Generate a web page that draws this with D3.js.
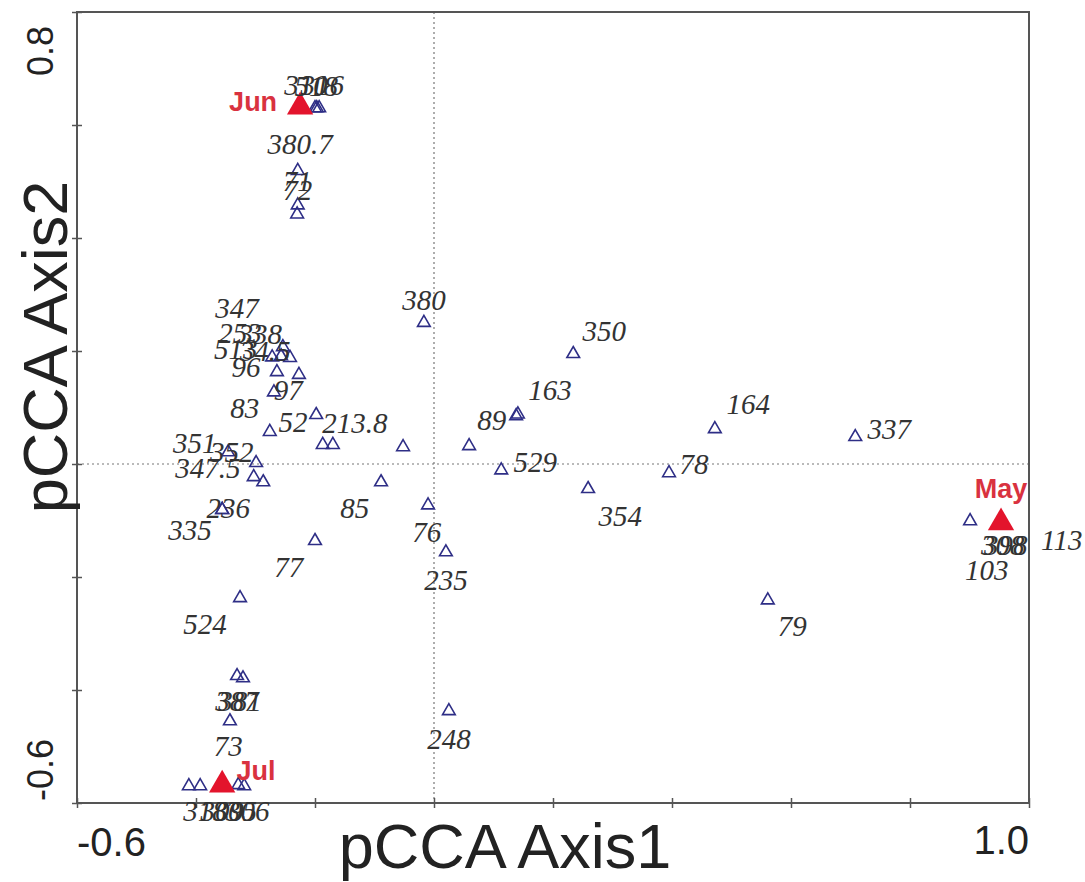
<!DOCTYPE html>
<meta charset="utf-8" />
<script src="https://d3js.org/d3.v7.min.js"></script>
<style>
  body { margin: 0; background: #fff; }
  text { font-family: "Liberation Sans", Arial, sans-serif; }
</style>
<body>
  <div id="chart"></div>
</body>
<script>
  // axis ranges and ticks
  const xDomain = [-0.6, 1.0];
  const yDomain = [-0.6, 0.8];
  const xTicks = [-0.6, -0.4, -0.2, 0, 0.2, 0.4, 0.6, 0.8, 1.0];
  const yTicks = [-0.6, -0.4, -0.2, 0, 0.2, 0.4, 0.6, 0.8];
  const xTickLabels = ["-0.6", "1.0"];
  const yTickLabels = ["-0.6", "0.8"];

  // species scores: name, axis1, axis2, label axis1, label axis2
  const species = [
    ["310", -0.193, 0.630, -0.215, 0.671],
    ["316", -0.197, 0.630, -0.188, 0.671],
    ["518", -0.200, 0.630, -0.198, 0.669],
    ["380.7", -0.229, 0.519, -0.225, 0.566],
    ["71", -0.229, 0.458, -0.230, 0.501],
    ["72", -0.230, 0.442, -0.229, 0.485],
    ["347", -0.254, 0.207, -0.331, 0.276],
    ["253", -0.272, 0.189, -0.326, 0.232],
    ["338", -0.242, 0.188, -0.292, 0.230],
    ["513", -0.257, 0.191, -0.333, 0.204],
    ["34.5", -0.227, 0.158, -0.284, 0.200],
    ["96", -0.264, 0.163, -0.316, 0.172],
    ["97", -0.269, 0.127, -0.245, 0.131],
    ["83", -0.276, 0.057, -0.318, 0.099],
    ["52", -0.198, 0.087, -0.237, 0.074],
    ["213.8", -0.187, 0.034, -0.133, 0.073],
    ["", -0.170, 0.034, 0, 0],
    ["", -0.052, 0.030, 0, 0],
    ["351", -0.346, 0.021, -0.402, 0.037],
    ["352", -0.299, 0.002, -0.340, 0.021],
    ["347.5", -0.303, -0.023, -0.380, -0.007],
    ["", -0.287, -0.032, 0, 0],
    ["236", -0.356, -0.081, -0.346, -0.078],
    ["335", -0.356, -0.081, -0.410, -0.117],
    ["380", -0.017, 0.250, -0.017, 0.290],
    ["350", 0.234, 0.195, 0.286, 0.235],
    ["163", 0.141, 0.088, 0.195, 0.131],
    ["89", 0.138, 0.085, 0.097, 0.078],
    ["", 0.059, 0.032, 0, 0],
    ["529", 0.113, -0.011, 0.170, 0.004],
    ["85", -0.089, -0.032, -0.133, -0.078],
    ["76", -0.010, -0.073, -0.012, -0.120],
    ["235", 0.020, -0.156, 0.020, -0.205],
    ["354", 0.259, -0.044, 0.313, -0.092],
    ["164", 0.472, 0.062, 0.528, 0.106],
    ["337", 0.708, 0.048, 0.765, 0.062],
    ["78", 0.395, -0.016, 0.437, 0.000],
    ["79", 0.561, -0.241, 0.602, -0.287],
    ["", 0.901, -0.101, 0, 0],
    ["308", 0.953, -0.104, 0.956, -0.143],
    ["398", 0.953, -0.104, 0.961, -0.143],
    ["113", 0.953, -0.104, 1.055, -0.135],
    ["103", 0.953, -0.104, 0.929, -0.188],
    ["248", 0.025, -0.437, 0.025, -0.487],
    ["77", -0.200, -0.136, -0.244, -0.182],
    ["524", -0.326, -0.237, -0.385, -0.283],
    ["387", -0.331, -0.375, -0.331, -0.420],
    ["381", -0.321, -0.379, -0.326, -0.420],
    ["73", -0.343, -0.455, -0.346, -0.499],
    ["318", -0.412, -0.570, -0.385, -0.614],
    ["309", -0.393, -0.570, -0.356, -0.614],
    ["305", -0.329, -0.568, -0.334, -0.614],
    ["306", -0.319, -0.570, -0.313, -0.614]
  ];

  // environmental variables (months): name, axis1, axis2, label axis1, label axis2
  const months = [
    ["Jun", -0.225, 0.632, -0.304, 0.641],
    ["May", 0.953, -0.104, 0.953, -0.044],
    ["Jul", -0.356, -0.568, -0.299, -0.542]
  ];

  const width = 1085, height = 882;
  const svg = d3.select("#chart")
    .append("svg")
      .attr("width", width)
      .attr("height", height);

  const x = d3.scaleLinear().domain(xDomain).range([77, 1029]);
  const y = d3.scaleLinear().domain(yDomain).range([803, 12]);

  // dotted zero lines
  svg.append("line")
    .attr("x1", x(0)).attr("x2", x(0))
    .attr("y1", y(yDomain[1])).attr("y2", y(yDomain[0]))
    .attr("stroke", "#777").attr("stroke-width", 1.2)
    .attr("stroke-dasharray", "2,3");
  svg.append("line")
    .attr("x1", x(xDomain[0])).attr("x2", x(xDomain[1]))
    .attr("y1", y(0)).attr("y2", y(0))
    .attr("stroke", "#777").attr("stroke-width", 1.2)
    .attr("stroke-dasharray", "2,3");

  // frame
  svg.append("rect")
    .attr("x", x(xDomain[0])).attr("y", y(yDomain[1]))
    .attr("width", x(xDomain[1]) - x(xDomain[0]))
    .attr("height", y(yDomain[0]) - y(yDomain[1]))
    .attr("fill", "none").attr("stroke", "#555").attr("stroke-width", 2);

  // axes with ticks only
  const xAxis = svg.append("g")
    .attr("transform", "translate(0," + y(yDomain[0]) + ")")
    .call(d3.axisBottom(x).tickValues(xTicks).tickSize(5).tickFormat(""));
  const yAxis = svg.append("g")
    .attr("transform", "translate(" + x(xDomain[0]) + ",0)")
    .call(d3.axisLeft(y).tickValues(yTicks).tickSize(5).tickFormat(""));
  xAxis.select(".domain").remove();
  yAxis.select(".domain").remove();
  xAxis.selectAll(".tick line").attr("y1", -5).attr("stroke", "#555").attr("stroke-width", 1.5);
  yAxis.selectAll(".tick line").attr("x1", 5).attr("stroke", "#555").attr("stroke-width", 1.5);

  // tick labels at the ends only
  svg.append("text")
    .attr("x", x(+xTickLabels[0])).attr("y", 856)
    .attr("text-anchor", "start")
    .style("font-size", "40px").attr("fill", "#222")
    .text(xTickLabels[0]);
  svg.append("text")
    .attr("x", x(+xTickLabels[1])).attr("y", 854)
    .attr("text-anchor", "end")
    .style("font-size", "40px").attr("fill", "#222")
    .text(xTickLabels[1]);
  svg.append("text")
    .attr("transform", "translate(53," + (y(+yTickLabels[0]) - 2) + ") rotate(-90)")
    .attr("text-anchor", "start")
    .style("font-size", "36px").attr("fill", "#222")
    .text(yTickLabels[0]);
  svg.append("text")
    .attr("transform", "translate(53," + (y(+yTickLabels[1]) + 14) + ") rotate(-90)")
    .attr("text-anchor", "end")
    .style("font-size", "36px").attr("fill", "#222")
    .text(yTickLabels[1]);

  // axis titles
  svg.append("text")
    .attr("x", 505).attr("y", 868)
    .attr("text-anchor", "middle")
    .style("font-size", "63px").attr("fill", "#222")
    .text("pCCA Axis1");
  svg.append("text")
    .attr("transform", "translate(67,347) rotate(-90)")
    .attr("text-anchor", "middle")
    .style("font-size", "63px").attr("fill", "#222")
    .text("pCCA Axis2");

  const smallTri = d3.symbol().type(d3.symbolTriangle).size(70);
  const bigTri = d3.symbol().type(d3.symbolTriangle).size(300);

  // species triangles
  svg.append("g")
    .selectAll("path")
    .data(species)
    .enter()
    .append("path")
    .attr("d", smallTri)
    .attr("transform", d => "translate(" + x(d[1]) + "," + y(d[2]) + ")")
    .attr("fill", "none")
    .attr("stroke", "#2e2e86")
    .attr("stroke-width", 1.6);

  // month triangles
  svg.append("g")
    .selectAll("path")
    .data(months)
    .enter()
    .append("path")
    .attr("d", bigTri)
    .attr("transform", d => "translate(" + x(d[1]) + "," + y(d[2]) + ")")
    .attr("fill", "#e3142c");

  // species labels
  svg.append("g")
    .selectAll("text")
    .data(species.filter(d => d[0] !== ""))
    .enter()
    .append("text")
    .attr("x", d => x(d[3]))
    .attr("y", d => y(d[4]))
    .attr("dy", "0.35em")
    .attr("text-anchor", "middle")
    .style("font-family", "'Liberation Serif', 'Times New Roman', serif")
    .style("font-style", "italic")
    .style("font-size", "29px")
    .attr("fill", "#333")
    .text(d => d[0]);

  // month labels
  svg.append("g")
    .selectAll("text")
    .data(months)
    .enter()
    .append("text")
    .attr("x", d => x(d[3]))
    .attr("y", d => y(d[4]))
    .attr("dy", "0.35em")
    .attr("text-anchor", "middle")
    .style("font-size", "27px")
    .style("font-weight", "bold")
    .attr("fill", "#d9323f")
    .text(d => d[0]);
</script>
